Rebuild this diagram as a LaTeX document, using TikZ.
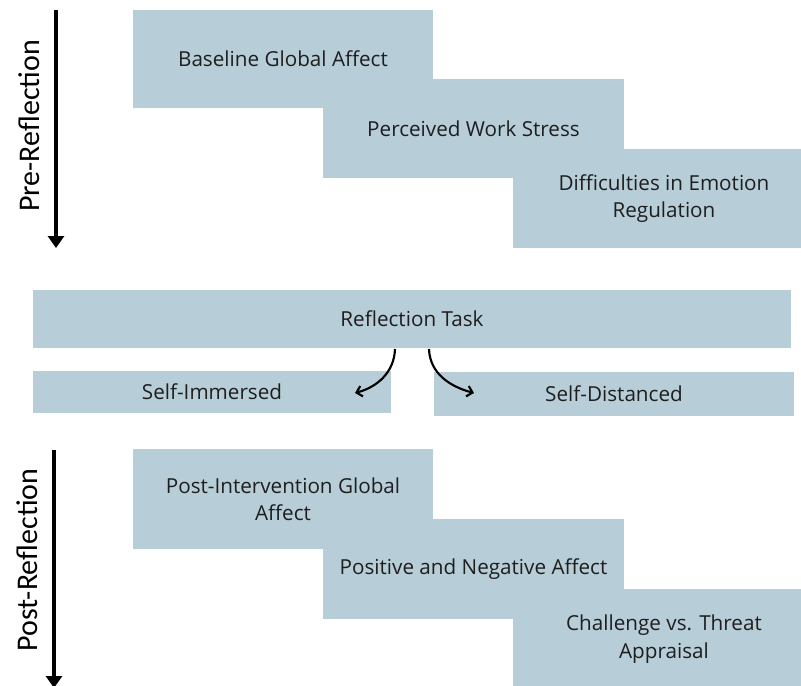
\documentclass[tikz,border=0pt]{standalone}
\usepackage{fontspec}
\setmainfont{Open Sans}
\newfontfamily\sidefont{Carlito}
\usepackage{tikz}
\usetikzlibrary{arrows.meta}

\definecolor{boxblue}{RGB}{183,206,216}
\definecolor{ink}{RGB}{30,30,30}

\tikzset{
  stage/.style={fill=boxblue, inner sep=0pt, text=ink, align=center,
    font=\fontsize{15.5}{20.5}\selectfont},
  phase/.style={font=\sidefont\fontsize{22.5}{24}\selectfont, rotate=90},
  timeline/.style={line width=2.6pt, -{Triangle[width=12pt,length=9pt]}},
  branch/.style={line width=1.6pt, -{Straight Barb[length=4pt,width=8pt]}}
}

\begin{document}
\begin{tikzpicture}[x=0.75pt,y=-0.75pt]
     \useasboundingbox (0,0) rectangle (801,686);

     % pre-reflection measures
     \node[stage, minimum width=225pt, minimum height=73.5pt] (base) at (283,59) {Baseline Global Affect};
     \node[stage, minimum width=225.75pt, minimum height=74.25pt] (stress) at (473.5,128.5) {Perceived Work Stress};
     \node[stage, minimum width=226.5pt, minimum height=74.25pt] (ders) at (664,198.5) {Difficulties in Emotion\\Regulation};

     % the task and its two conditions
     \node[stage, minimum width=568.5pt, minimum height=43.5pt] (task) at (412,319) {Reflection Task};
     \node[stage, minimum width=268.5pt, minimum height=31.5pt] (immersed) at (212,392) {Self-Immersed};
     \node[stage, minimum width=270pt, minimum height=33pt] (distanced) at (614,394) {Self-Distanced};

     % post-reflection measures
     \node[stage, minimum width=225pt, minimum height=75pt] (postga) at (283,499) {Post-Intervention Global\\Affect};
     \node[stage, minimum width=225.75pt, minimum height=75pt] (panas) at (473.5,569) {Positive and Negative Affect};
     \node[stage, minimum width=226.5pt, minimum height=75pt] (appraisal) at (664,639) {Challenge vs. Threat\\Appraisal};

     % branches out of the task
     \coordinate (immstart) at (395,349);
     \coordinate (immend) at (355,393);
     \coordinate (disstart) at (429,349);
     \coordinate (disend) at (474,393);
     \draw[branch] (immstart) to[out=-92,in=15] (immend);
     \draw[branch] (disstart) to[out=-88,in=165] (disend);

     % time axes
     \coordinate (pretop) at (56,10);
     \coordinate (prebot) at (56,248);
     \coordinate (posttop) at (54,450);
     \coordinate (postbot) at (54,688);
     \draw[timeline] (pretop) -- (prebot);
     \draw[timeline] (posttop) -- (postbot);
     \node[phase] (pre) at (29,126) {Pre-Reflection};
     \node[phase] (post) at (27,560) {Post-Reflection};
\end{tikzpicture}
\end{document}
